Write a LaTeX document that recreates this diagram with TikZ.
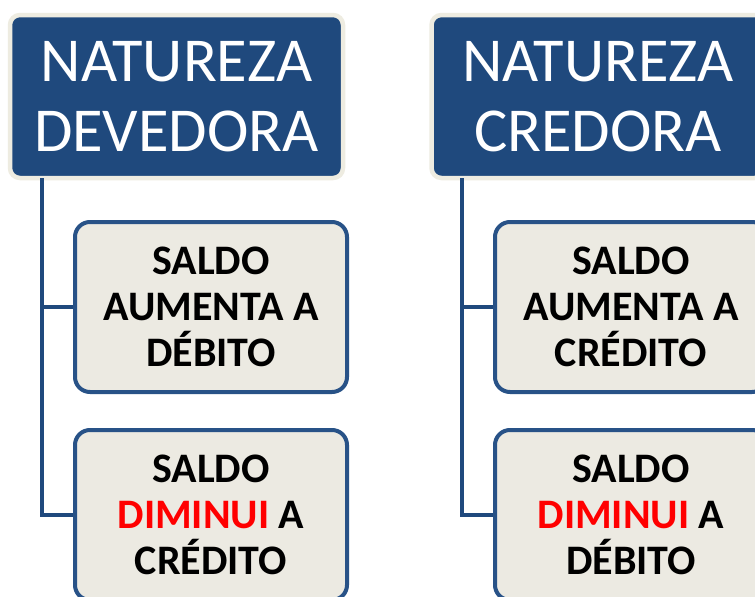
\documentclass[tikz,border=0pt]{standalone}
\usepackage{fontspec}
\setmainfont{Carlito}
\definecolor{hblue}{RGB}{31,73,125}
\definecolor{bblue}{RGB}{40,82,135}
\definecolor{beige}{RGB}{238,236,225}
\definecolor{boxfill}{RGB}{236,234,226}
\definecolor{redtxt}{RGB}{255,0,0}
\tikzset{
  header/.style={rectangle, rounded corners=10pt, fill=hblue, draw=beige, line width=4.5pt,
    minimum width=333pt, minimum height=163pt, inner sep=0pt, text=white, align=center,
    font=\fontsize{62.5}{70}\selectfont},
  childbox/.style={rectangle, rounded corners=15pt, fill=boxfill, draw=bblue, line width=4pt,
    minimum width=272pt, minimum height=170pt, inner sep=0pt, text=black, align=center,
    font=\fontsize{42}{46}\selectfont\bfseries},
  conn/.style={draw=hblue, line width=4pt}
}
\begin{document}
\begin{tikzpicture}[x=1pt,y=-1pt]
\useasboundingbox (0,0) rectangle (755,597);
\clip (0,0) rectangle (755,597);
\fill[white] (0,0) rectangle (755,597);
% left column
\node[header] (h1) at (176.5,96.5) {NATUREZA\\DEVEDORA};
\node[childbox] (a1) at (211,307) {SALDO\\AUMENTA A\\DÉBITO};
\node[childbox] (a2) at (211,515) {SALDO\\\textcolor{redtxt}{DIMINUI} A\\CRÉDITO};
\coordinate (t1) at (42,178);
\draw[conn] (t1) |- (a2.west);
\draw[conn] (t1 |- a1.west) -- (a1.west);
% right column
\node[header] (h2) at (598,96.5) {NATUREZA\\CREDORA};
\node[childbox] (b1) at (631,307) {SALDO\\AUMENTA A\\CRÉDITO};
\node[childbox] (b2) at (631,515) {SALDO\\\textcolor{redtxt}{DIMINUI} A\\DÉBITO};
\coordinate (t2) at (462,178);
\draw[conn] (t2) |- (b2.west);
\draw[conn] (t2 |- b1.west) -- (b1.west);
\end{tikzpicture}
\end{document}
